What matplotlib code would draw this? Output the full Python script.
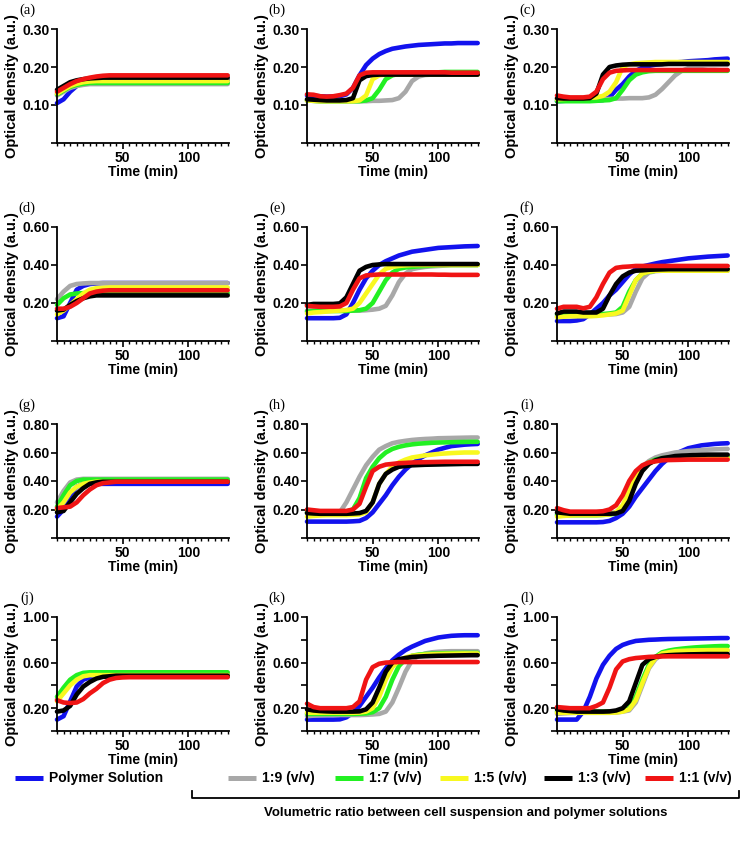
import matplotlib
matplotlib.use("Agg")
import matplotlib.pyplot as plt
from matplotlib.ticker import FixedLocator, MultipleLocator, FuncFormatter

plt.rcParams['font.family'] = ['Liberation Sans', 'DejaVu Sans']
plt.rcParams['font.weight'] = 'bold'

# time axis of every curve (min)
time_min = [0, 5, 10, 15, 20, 25, 30, 35, 40, 45, 50, 55, 60, 65,
            70, 75, 80, 85, 90, 95, 100, 105, 110, 115, 120, 125, 130]

series_names = ['Polymer Solution', '1:9 (v/v)', '1:7 (v/v)', '1:5 (v/v)', '1:3 (v/v)', '1:1 (v/v)']
series_colors = ['#1212ee', '#a8a8a8', '#22f022', '#f8f820', '#000000', '#f01414']

# optical density per panel, rows in order: polymer, 1:9, 1:7, 1:5, 1:3, 1:1
panel_a = [
    [0.105, 0.115, 0.135, 0.150, 0.158, 0.162, 0.164, 0.165, 0.165, 0.165, 0.165, 0.165, 0.165, 0.165, 0.165, 0.165, 0.165, 0.165, 0.165, 0.165, 0.165, 0.165, 0.165, 0.165, 0.165, 0.165, 0.165],
    [0.125, 0.135, 0.145, 0.150, 0.153, 0.155, 0.155, 0.155, 0.155, 0.155, 0.155, 0.155, 0.155, 0.155, 0.155, 0.155, 0.155, 0.155, 0.155, 0.155, 0.155, 0.155, 0.155, 0.155, 0.155, 0.155, 0.155],
    [0.128, 0.138, 0.148, 0.153, 0.156, 0.158, 0.158, 0.158, 0.158, 0.158, 0.158, 0.158, 0.158, 0.158, 0.158, 0.158, 0.158, 0.158, 0.158, 0.158, 0.158, 0.158, 0.158, 0.158, 0.158, 0.158, 0.158],
    [0.130, 0.140, 0.150, 0.156, 0.160, 0.162, 0.163, 0.163, 0.163, 0.163, 0.163, 0.163, 0.163, 0.163, 0.163, 0.163, 0.163, 0.163, 0.163, 0.163, 0.163, 0.163, 0.163, 0.163, 0.163, 0.163, 0.163],
    [0.140, 0.150, 0.160, 0.165, 0.168, 0.170, 0.171, 0.172, 0.172, 0.172, 0.172, 0.172, 0.172, 0.172, 0.172, 0.172, 0.172, 0.172, 0.172, 0.172, 0.172, 0.172, 0.172, 0.172, 0.172, 0.172, 0.172],
    [0.135, 0.145, 0.155, 0.163, 0.168, 0.172, 0.175, 0.177, 0.178, 0.178, 0.178, 0.178, 0.178, 0.178, 0.178, 0.178, 0.178, 0.178, 0.178, 0.178, 0.178, 0.178, 0.178, 0.178, 0.178, 0.178, 0.178],
]
panel_b = [
    [0.125, 0.124, 0.123, 0.122, 0.122, 0.123, 0.128, 0.145, 0.178, 0.205, 0.222, 0.234, 0.242, 0.248, 0.251, 0.254, 0.256, 0.258, 0.259, 0.260, 0.261, 0.262, 0.262, 0.263, 0.263, 0.263, 0.263],
    [0.112, 0.111, 0.110, 0.110, 0.110, 0.110, 0.110, 0.110, 0.110, 0.110, 0.111, 0.111, 0.112, 0.113, 0.118, 0.135, 0.163, 0.175, 0.179, 0.180, 0.180, 0.180, 0.180, 0.180, 0.180, 0.180, 0.180],
    [0.112, 0.111, 0.110, 0.110, 0.110, 0.110, 0.110, 0.110, 0.110, 0.112, 0.118, 0.140, 0.168, 0.178, 0.182, 0.184, 0.185, 0.186, 0.186, 0.186, 0.186, 0.187, 0.187, 0.187, 0.187, 0.187, 0.187],
    [0.112, 0.111, 0.110, 0.110, 0.110, 0.110, 0.110, 0.110, 0.112, 0.125, 0.168, 0.178, 0.180, 0.180, 0.180, 0.180, 0.180, 0.180, 0.180, 0.180, 0.180, 0.180, 0.180, 0.180, 0.180, 0.180, 0.180],
    [0.115, 0.114, 0.113, 0.112, 0.112, 0.112, 0.113, 0.118, 0.165, 0.176, 0.179, 0.180, 0.180, 0.180, 0.180, 0.180, 0.180, 0.180, 0.180, 0.180, 0.180, 0.180, 0.180, 0.180, 0.180, 0.180, 0.180],
    [0.128, 0.127, 0.123, 0.122, 0.123, 0.126, 0.130, 0.145, 0.178, 0.185, 0.186, 0.186, 0.186, 0.186, 0.186, 0.186, 0.186, 0.186, 0.186, 0.186, 0.186, 0.186, 0.185, 0.185, 0.185, 0.185, 0.185],
]
panel_c = [
    [0.110, 0.111, 0.112, 0.112, 0.112, 0.112, 0.112, 0.113, 0.120, 0.140, 0.155, 0.175, 0.190, 0.198, 0.203, 0.206, 0.208, 0.210, 0.212, 0.213, 0.215, 0.216, 0.217, 0.218, 0.220, 0.221, 0.222],
    [0.115, 0.115, 0.115, 0.115, 0.115, 0.115, 0.115, 0.116, 0.116, 0.117, 0.117, 0.118, 0.118, 0.118, 0.120, 0.127, 0.142, 0.160, 0.178, 0.190, 0.197, 0.201, 0.203, 0.205, 0.205, 0.206, 0.206],
    [0.110, 0.110, 0.110, 0.110, 0.110, 0.110, 0.111, 0.112, 0.113, 0.118, 0.140, 0.165, 0.180, 0.186, 0.189, 0.190, 0.190, 0.190, 0.190, 0.190, 0.190, 0.190, 0.190, 0.190, 0.190, 0.190, 0.190],
    [0.115, 0.116, 0.117, 0.118, 0.118, 0.119, 0.120, 0.124, 0.135, 0.160, 0.200, 0.207, 0.210, 0.211, 0.212, 0.213, 0.213, 0.213, 0.213, 0.213, 0.213, 0.213, 0.213, 0.213, 0.213, 0.213, 0.213],
    [0.118, 0.117, 0.117, 0.117, 0.117, 0.118, 0.130, 0.180, 0.200, 0.204, 0.206, 0.207, 0.207, 0.207, 0.207, 0.207, 0.207, 0.208, 0.208, 0.208, 0.208, 0.208, 0.208, 0.208, 0.208, 0.208, 0.208],
    [0.125, 0.122, 0.120, 0.120, 0.120, 0.122, 0.135, 0.168, 0.185, 0.190, 0.191, 0.192, 0.192, 0.192, 0.192, 0.192, 0.192, 0.192, 0.192, 0.192, 0.192, 0.192, 0.192, 0.192, 0.192, 0.192, 0.192],
]
panel_d = [
    [0.120, 0.130, 0.200, 0.270, 0.290, 0.300, 0.303, 0.305, 0.305, 0.305, 0.305, 0.305, 0.305, 0.305, 0.305, 0.305, 0.305, 0.305, 0.305, 0.305, 0.305, 0.305, 0.305, 0.305, 0.305, 0.305, 0.305],
    [0.220, 0.260, 0.290, 0.300, 0.303, 0.305, 0.305, 0.305, 0.305, 0.305, 0.305, 0.305, 0.305, 0.305, 0.305, 0.305, 0.305, 0.305, 0.305, 0.305, 0.305, 0.305, 0.305, 0.305, 0.305, 0.305, 0.305],
    [0.190, 0.225, 0.245, 0.250, 0.252, 0.252, 0.252, 0.252, 0.252, 0.252, 0.252, 0.252, 0.252, 0.252, 0.252, 0.252, 0.252, 0.252, 0.252, 0.252, 0.252, 0.252, 0.252, 0.252, 0.252, 0.252, 0.252],
    [0.140, 0.160, 0.190, 0.220, 0.250, 0.270, 0.278, 0.280, 0.282, 0.282, 0.282, 0.282, 0.282, 0.282, 0.282, 0.282, 0.282, 0.282, 0.282, 0.282, 0.282, 0.282, 0.282, 0.282, 0.282, 0.282, 0.282],
    [0.160, 0.165, 0.190, 0.210, 0.225, 0.235, 0.240, 0.240, 0.240, 0.240, 0.240, 0.240, 0.240, 0.240, 0.240, 0.240, 0.240, 0.240, 0.240, 0.240, 0.240, 0.240, 0.240, 0.240, 0.240, 0.240, 0.240],
    [0.170, 0.170, 0.180, 0.200, 0.225, 0.250, 0.260, 0.265, 0.267, 0.267, 0.267, 0.267, 0.267, 0.267, 0.267, 0.267, 0.267, 0.267, 0.267, 0.267, 0.267, 0.267, 0.267, 0.267, 0.267, 0.267, 0.267],
]
panel_e = [
    [0.120, 0.120, 0.120, 0.120, 0.120, 0.122, 0.140, 0.200, 0.270, 0.330, 0.370, 0.400, 0.420, 0.435, 0.450, 0.460, 0.470, 0.475, 0.480, 0.485, 0.490, 0.492, 0.494, 0.496, 0.498, 0.499, 0.500],
    [0.160, 0.160, 0.160, 0.160, 0.160, 0.160, 0.160, 0.160, 0.160, 0.162, 0.165, 0.170, 0.185, 0.240, 0.310, 0.355, 0.378, 0.385, 0.390, 0.393, 0.395, 0.397, 0.400, 0.400, 0.400, 0.400, 0.400],
    [0.155, 0.157, 0.158, 0.158, 0.158, 0.158, 0.158, 0.160, 0.162, 0.170, 0.200, 0.260, 0.320, 0.360, 0.380, 0.387, 0.390, 0.393, 0.395, 0.397, 0.400, 0.400, 0.400, 0.400, 0.400, 0.400, 0.400],
    [0.145, 0.150, 0.152, 0.155, 0.158, 0.160, 0.163, 0.170, 0.200, 0.250, 0.300, 0.350, 0.380, 0.390, 0.395, 0.398, 0.400, 0.400, 0.400, 0.400, 0.400, 0.400, 0.400, 0.400, 0.400, 0.400, 0.400],
    [0.190, 0.195, 0.195, 0.195, 0.195, 0.198, 0.230, 0.300, 0.370, 0.390, 0.400, 0.403, 0.405, 0.405, 0.405, 0.405, 0.405, 0.405, 0.405, 0.405, 0.405, 0.405, 0.405, 0.405, 0.405, 0.405, 0.405],
    [0.185, 0.182, 0.180, 0.180, 0.180, 0.182, 0.200, 0.270, 0.330, 0.345, 0.348, 0.350, 0.350, 0.350, 0.350, 0.350, 0.350, 0.350, 0.350, 0.350, 0.349, 0.349, 0.348, 0.348, 0.348, 0.348, 0.348],
]
panel_f = [
    [0.105, 0.105, 0.105, 0.108, 0.115, 0.140, 0.170, 0.200, 0.240, 0.270, 0.310, 0.350, 0.380, 0.392, 0.400, 0.408, 0.415, 0.420, 0.425, 0.430, 0.435, 0.438, 0.441, 0.444, 0.446, 0.448, 0.450],
    [0.130, 0.132, 0.135, 0.137, 0.138, 0.140, 0.140, 0.140, 0.140, 0.142, 0.150, 0.180, 0.260, 0.330, 0.360, 0.368, 0.370, 0.370, 0.370, 0.370, 0.370, 0.370, 0.370, 0.370, 0.370, 0.370, 0.370],
    [0.140, 0.140, 0.140, 0.140, 0.140, 0.140, 0.140, 0.142, 0.145, 0.150, 0.180, 0.260, 0.320, 0.355, 0.365, 0.370, 0.372, 0.374, 0.375, 0.375, 0.375, 0.375, 0.375, 0.375, 0.375, 0.375, 0.375],
    [0.125, 0.128, 0.130, 0.130, 0.130, 0.130, 0.132, 0.135, 0.140, 0.145, 0.160, 0.240, 0.320, 0.355, 0.365, 0.370, 0.370, 0.370, 0.370, 0.370, 0.370, 0.370, 0.370, 0.370, 0.370, 0.370, 0.370],
    [0.145, 0.155, 0.155, 0.155, 0.150, 0.150, 0.150, 0.170, 0.240, 0.300, 0.340, 0.360, 0.370, 0.372, 0.375, 0.376, 0.377, 0.378, 0.378, 0.378, 0.378, 0.378, 0.378, 0.378, 0.378, 0.378, 0.378],
    [0.170, 0.180, 0.180, 0.180, 0.172, 0.180, 0.230, 0.300, 0.360, 0.385, 0.390, 0.392, 0.395, 0.395, 0.395, 0.395, 0.395, 0.395, 0.395, 0.395, 0.395, 0.395, 0.395, 0.395, 0.395, 0.395, 0.395],
]
panel_g = [
    [0.150, 0.200, 0.300, 0.360, 0.380, 0.380, 0.380, 0.380, 0.380, 0.380, 0.380, 0.380, 0.380, 0.380, 0.380, 0.380, 0.380, 0.380, 0.380, 0.380, 0.380, 0.380, 0.380, 0.380, 0.380, 0.380, 0.380],
    [0.250, 0.330, 0.390, 0.410, 0.415, 0.415, 0.415, 0.415, 0.415, 0.415, 0.415, 0.415, 0.415, 0.415, 0.415, 0.415, 0.415, 0.415, 0.415, 0.415, 0.415, 0.415, 0.415, 0.415, 0.415, 0.415, 0.415],
    [0.220, 0.300, 0.370, 0.400, 0.410, 0.410, 0.410, 0.410, 0.410, 0.410, 0.410, 0.410, 0.410, 0.410, 0.410, 0.410, 0.410, 0.410, 0.410, 0.410, 0.410, 0.410, 0.410, 0.410, 0.410, 0.410, 0.410],
    [0.200, 0.250, 0.320, 0.360, 0.380, 0.390, 0.395, 0.395, 0.395, 0.395, 0.395, 0.395, 0.395, 0.395, 0.395, 0.395, 0.395, 0.395, 0.395, 0.395, 0.395, 0.395, 0.395, 0.395, 0.395, 0.395, 0.395],
    [0.180, 0.190, 0.250, 0.310, 0.350, 0.380, 0.390, 0.395, 0.395, 0.395, 0.395, 0.395, 0.395, 0.395, 0.395, 0.395, 0.395, 0.395, 0.395, 0.395, 0.395, 0.395, 0.395, 0.395, 0.395, 0.395, 0.395],
    [0.210, 0.215, 0.220, 0.250, 0.300, 0.340, 0.370, 0.385, 0.390, 0.395, 0.395, 0.395, 0.395, 0.395, 0.395, 0.395, 0.395, 0.395, 0.395, 0.395, 0.395, 0.395, 0.395, 0.395, 0.395, 0.395, 0.395],
]
panel_h = [
    [0.115, 0.115, 0.115, 0.115, 0.115, 0.115, 0.115, 0.117, 0.120, 0.140, 0.180, 0.240, 0.300, 0.370, 0.430, 0.480, 0.520, 0.555, 0.580, 0.600, 0.620, 0.633, 0.645, 0.650, 0.655, 0.658, 0.660],
    [0.180, 0.180, 0.180, 0.180, 0.180, 0.180, 0.250, 0.340, 0.430, 0.510, 0.570, 0.620, 0.645, 0.665, 0.675, 0.682, 0.688, 0.692, 0.695, 0.697, 0.700, 0.701, 0.702, 0.703, 0.704, 0.705, 0.705],
    [0.180, 0.180, 0.180, 0.180, 0.180, 0.180, 0.185, 0.200, 0.280, 0.420, 0.500, 0.560, 0.600, 0.625, 0.640, 0.650, 0.657, 0.662, 0.665, 0.668, 0.670, 0.671, 0.672, 0.673, 0.674, 0.675, 0.675],
    [0.150, 0.155, 0.158, 0.160, 0.160, 0.160, 0.160, 0.162, 0.165, 0.180, 0.250, 0.380, 0.450, 0.500, 0.530, 0.550, 0.565, 0.572, 0.580, 0.585, 0.590, 0.593, 0.596, 0.598, 0.600, 0.600, 0.600],
    [0.175, 0.172, 0.170, 0.170, 0.170, 0.170, 0.170, 0.172, 0.175, 0.190, 0.250, 0.380, 0.450, 0.480, 0.500, 0.505, 0.510, 0.512, 0.514, 0.515, 0.516, 0.517, 0.518, 0.519, 0.520, 0.520, 0.520],
    [0.200, 0.195, 0.190, 0.190, 0.190, 0.190, 0.190, 0.200, 0.240, 0.360, 0.470, 0.500, 0.515, 0.520, 0.525, 0.527, 0.530, 0.531, 0.532, 0.533, 0.534, 0.535, 0.535, 0.535, 0.535, 0.535, 0.535],
]
panel_i = [
    [0.110, 0.110, 0.110, 0.110, 0.110, 0.110, 0.110, 0.112, 0.120, 0.140, 0.170, 0.220, 0.290, 0.350, 0.410, 0.470, 0.520, 0.560, 0.590, 0.610, 0.630, 0.640, 0.650, 0.655, 0.660, 0.663, 0.665],
    [0.170, 0.170, 0.170, 0.170, 0.170, 0.170, 0.170, 0.172, 0.175, 0.180, 0.220, 0.320, 0.420, 0.500, 0.540, 0.565, 0.580, 0.590, 0.600, 0.605, 0.610, 0.614, 0.617, 0.620, 0.622, 0.624, 0.625],
    [0.160, 0.160, 0.160, 0.160, 0.160, 0.160, 0.160, 0.162, 0.165, 0.172, 0.200, 0.300, 0.400, 0.480, 0.530, 0.550, 0.560, 0.563, 0.565, 0.567, 0.568, 0.569, 0.570, 0.570, 0.570, 0.570, 0.570],
    [0.150, 0.155, 0.158, 0.160, 0.160, 0.160, 0.160, 0.162, 0.165, 0.180, 0.230, 0.330, 0.430, 0.500, 0.530, 0.540, 0.550, 0.553, 0.555, 0.557, 0.558, 0.559, 0.560, 0.560, 0.560, 0.560, 0.560],
    [0.180, 0.175, 0.170, 0.170, 0.170, 0.170, 0.170, 0.170, 0.170, 0.172, 0.190, 0.260, 0.380, 0.470, 0.520, 0.545, 0.560, 0.567, 0.575, 0.578, 0.580, 0.582, 0.584, 0.585, 0.585, 0.585, 0.585],
    [0.210, 0.195, 0.185, 0.185, 0.185, 0.185, 0.185, 0.188, 0.200, 0.230, 0.300, 0.400, 0.470, 0.510, 0.530, 0.538, 0.545, 0.547, 0.548, 0.549, 0.550, 0.550, 0.550, 0.550, 0.550, 0.550, 0.550],
]
panel_j = [
    [0.100, 0.130, 0.260, 0.390, 0.450, 0.470, 0.480, 0.480, 0.480, 0.480, 0.480, 0.480, 0.480, 0.480, 0.480, 0.480, 0.480, 0.480, 0.480, 0.480, 0.480, 0.480, 0.480, 0.480, 0.480, 0.480, 0.480],
    [0.280, 0.360, 0.440, 0.480, 0.500, 0.505, 0.505, 0.505, 0.505, 0.505, 0.505, 0.505, 0.505, 0.505, 0.505, 0.505, 0.505, 0.505, 0.505, 0.505, 0.505, 0.505, 0.505, 0.505, 0.505, 0.505, 0.505],
    [0.300, 0.380, 0.450, 0.490, 0.510, 0.515, 0.515, 0.515, 0.515, 0.515, 0.515, 0.515, 0.515, 0.515, 0.515, 0.515, 0.515, 0.515, 0.515, 0.515, 0.515, 0.515, 0.515, 0.515, 0.515, 0.515, 0.515],
    [0.260, 0.330, 0.400, 0.450, 0.480, 0.490, 0.490, 0.490, 0.490, 0.490, 0.490, 0.490, 0.490, 0.490, 0.490, 0.490, 0.490, 0.490, 0.490, 0.490, 0.490, 0.490, 0.490, 0.490, 0.490, 0.490, 0.490],
    [0.170, 0.180, 0.220, 0.320, 0.390, 0.430, 0.460, 0.475, 0.480, 0.485, 0.485, 0.485, 0.485, 0.485, 0.485, 0.485, 0.485, 0.485, 0.485, 0.485, 0.485, 0.485, 0.485, 0.485, 0.485, 0.485, 0.485],
    [0.270, 0.250, 0.245, 0.250, 0.280, 0.330, 0.370, 0.420, 0.450, 0.465, 0.470, 0.472, 0.472, 0.472, 0.472, 0.472, 0.472, 0.472, 0.472, 0.472, 0.472, 0.472, 0.472, 0.472, 0.472, 0.472, 0.472],
]
panel_k = [
    [0.100, 0.100, 0.100, 0.100, 0.100, 0.102, 0.120, 0.160, 0.220, 0.300, 0.380, 0.470, 0.550, 0.620, 0.670, 0.710, 0.740, 0.765, 0.790, 0.805, 0.820, 0.828, 0.835, 0.838, 0.840, 0.840, 0.840],
    [0.130, 0.135, 0.138, 0.140, 0.140, 0.140, 0.140, 0.140, 0.140, 0.142, 0.145, 0.150, 0.170, 0.250, 0.380, 0.520, 0.620, 0.660, 0.680, 0.690, 0.695, 0.698, 0.700, 0.700, 0.700, 0.700, 0.700],
    [0.150, 0.150, 0.150, 0.150, 0.150, 0.150, 0.150, 0.150, 0.152, 0.155, 0.165, 0.200, 0.300, 0.450, 0.570, 0.630, 0.660, 0.670, 0.675, 0.678, 0.680, 0.682, 0.683, 0.684, 0.685, 0.685, 0.685],
    [0.160, 0.160, 0.160, 0.160, 0.160, 0.160, 0.160, 0.160, 0.162, 0.170, 0.200, 0.300, 0.450, 0.560, 0.620, 0.645, 0.660, 0.665, 0.670, 0.673, 0.675, 0.677, 0.678, 0.679, 0.680, 0.680, 0.680],
    [0.190, 0.180, 0.175, 0.172, 0.170, 0.170, 0.170, 0.170, 0.172, 0.190, 0.250, 0.380, 0.520, 0.600, 0.630, 0.640, 0.650, 0.653, 0.656, 0.658, 0.660, 0.661, 0.662, 0.663, 0.664, 0.665, 0.665],
    [0.240, 0.210, 0.200, 0.200, 0.200, 0.200, 0.200, 0.210, 0.260, 0.450, 0.560, 0.590, 0.600, 0.603, 0.605, 0.605, 0.605, 0.605, 0.605, 0.605, 0.605, 0.605, 0.605, 0.605, 0.605, 0.605, 0.605],
]
panel_l = [
    [0.100, 0.100, 0.100, 0.100, 0.170, 0.300, 0.460, 0.580, 0.660, 0.720, 0.755, 0.775, 0.790, 0.795, 0.800, 0.802, 0.805, 0.807, 0.808, 0.809, 0.810, 0.811, 0.812, 0.813, 0.814, 0.815, 0.815],
    [0.150, 0.155, 0.158, 0.160, 0.160, 0.160, 0.160, 0.160, 0.160, 0.162, 0.170, 0.180, 0.250, 0.400, 0.550, 0.630, 0.670, 0.685, 0.690, 0.695, 0.698, 0.700, 0.700, 0.700, 0.700, 0.700, 0.700],
    [0.170, 0.170, 0.170, 0.170, 0.170, 0.170, 0.170, 0.170, 0.170, 0.172, 0.180, 0.200, 0.300, 0.450, 0.580, 0.650, 0.690, 0.705, 0.715, 0.722, 0.728, 0.733, 0.737, 0.740, 0.743, 0.745, 0.745],
    [0.160, 0.160, 0.160, 0.160, 0.160, 0.160, 0.160, 0.160, 0.160, 0.162, 0.170, 0.190, 0.270, 0.420, 0.560, 0.640, 0.680, 0.690, 0.700, 0.703, 0.705, 0.707, 0.708, 0.709, 0.710, 0.710, 0.710],
    [0.190, 0.180, 0.175, 0.170, 0.170, 0.170, 0.170, 0.170, 0.172, 0.180, 0.200, 0.260, 0.420, 0.580, 0.630, 0.650, 0.660, 0.665, 0.668, 0.670, 0.672, 0.673, 0.674, 0.675, 0.675, 0.675, 0.675],
    [0.210, 0.205, 0.200, 0.200, 0.200, 0.200, 0.220, 0.250, 0.380, 0.540, 0.610, 0.630, 0.640, 0.645, 0.650, 0.652, 0.654, 0.655, 0.655, 0.655, 0.655, 0.655, 0.655, 0.655, 0.655, 0.655, 0.655],
]

panels = [panel_a, panel_b, panel_c, panel_d, panel_e, panel_f,
          panel_g, panel_h, panel_i, panel_j, panel_k, panel_l]
panel_tags = ['(a)', '(b)', '(c)', '(d)', '(e)', '(f)',
              '(g)', '(h)', '(i)', '(j)', '(k)', '(l)']

row_ymax = [0.30, 0.60, 0.80, 1.00]
row_ticks = [[0, 0.1, 0.2, 0.3], [0, 0.2, 0.4, 0.6],
             [0, 0.2, 0.4, 0.6, 0.8], [0, 0.2, 0.4, 0.6, 0.8, 1.0]]
row_labelled = [[0.1, 0.2, 0.3], [0.2, 0.4, 0.6],
                [0.2, 0.4, 0.6, 0.8], [0.2, 0.6, 1.0]]

W, H = 740, 841
fig = plt.figure(figsize=(W / 100, H / 100), dpi=100)

col_left = [57, 307, 557]
row_top = [29, 227, 424, 617]
ax_w, ax_h = 172, 114


def make_fmt(labelled):
    def f(v, pos):
        for l in labelled:
            if abs(v - l) < 1e-6:
                return '%.2f' % v
        return ''
    return FuncFormatter(f)


for k, data in enumerate(panels):
    r, c = divmod(k, 3)
    ax = fig.add_axes([col_left[c] / W, 1 - (row_top[r] + ax_h) / H, ax_w / W, ax_h / H])
    for vals, col in zip(data, series_colors):
        ax.plot(time_min, vals, color=col, lw=3.3, solid_capstyle='round', clip_on=False)
    ax.set_xlim(0, 131)
    ax.set_ylim(0, row_ymax[r])
    ax.spines['top'].set_visible(False)
    ax.spines['right'].set_visible(False)
    ax.spines['left'].set_linewidth(1.3)
    ax.spines['bottom'].set_linewidth(1.3)
    ax.xaxis.set_major_locator(FixedLocator([50, 100]))
    ax.xaxis.set_minor_locator(MultipleLocator(5))
    ax.yaxis.set_major_locator(FixedLocator(row_ticks[r]))
    ax.yaxis.set_major_formatter(make_fmt(row_labelled[r]))
    ax.tick_params(axis='both', which='major', length=4, width=1.2, labelsize=10, pad=1.5)
    ax.tick_params(axis='x', which='minor', length=2.5, width=1.0)
    for t in ax.get_xticklabels() + ax.get_yticklabels():
        t.set_fontweight('bold')
    ax.set_xlabel('Time (min)', fontsize=10, fontweight='bold', labelpad=0)
    ax.set_ylabel('Optical density (a.u.)', fontsize=10.5, fontweight='bold', labelpad=2)
    fig.text((col_left[c] - 30) / W, 1 - (row_top[r] - 19) / H, panel_tags[k],
             fontsize=10.5, family='Liberation Serif', fontweight='normal',
             ha='center', va='center')

# legend row
leg = fig.add_axes([0, 0, 1, 1 - 745 / H])
leg.set_xlim(0, W)
leg.set_ylim(H, 745)
leg.axis('off')
key_x = [15, 228, 335, 440, 544, 645]
for name, col, x0 in zip(series_names, series_colors, key_x):
    leg.plot([x0, x0 + 28], [778, 778], color=col, lw=3.6, solid_capstyle='butt')
    leg.text(x0 + 34, 778, name, fontsize=10, fontweight='bold', va='center', ha='left')
leg.plot([192, 192, 739, 739], [791, 798, 798, 791], color='black', lw=1.3)
leg.text(466, 813, 'Volumetric ratio between cell suspension and polymer solutions',
         fontsize=9.5, fontweight='bold', ha='center', va='center')

fig.savefig('out.png', dpi=100)
